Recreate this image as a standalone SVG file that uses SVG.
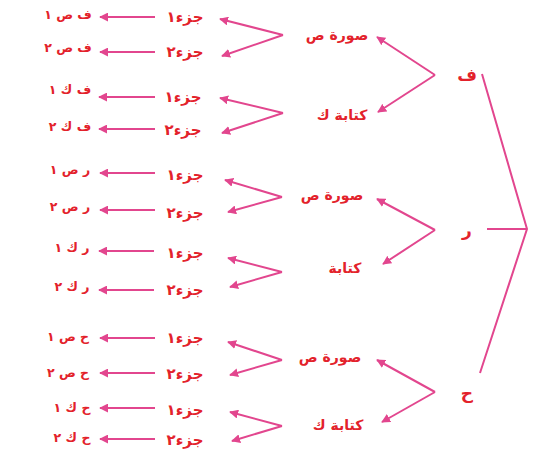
<svg xmlns="http://www.w3.org/2000/svg" width="543" height="450" viewBox="0 0 543 450">
<style>
.t{font-family:"DejaVu Sans","Noto Sans",sans-serif;font-weight:bold;fill:#e3222b;text-anchor:middle;direction:rtl}
.l1{font-size:17px}
.l2{font-size:14px}
.l3{font-size:15px}
.l4{font-size:12.5px}
.c{stroke:#e2468e;stroke-width:2;fill:none}
.a{stroke:#e2468e;stroke-width:2;fill:none;marker-end:url(#ah)}
</style>
<defs>
<marker id="ah" viewBox="0 0 10 10" refX="9" refY="5" markerWidth="4.5" markerHeight="4.5" orient="auto" markerUnits="strokeWidth">
<path d="M0,0 L10,5 L0,10 Z" fill="#e2468e"/>
</marker>
</defs>
<rect width="543" height="450" fill="#ffffff"/>
<g id="connectors">
<polyline class="c" points="482,74 527,229 480,373"/>
<line class="c" x1="487" y1="229" x2="527" y2="229"/>
<line class="a" x1="435" y1="75" x2="377" y2="37"/>
<line class="a" x1="435" y1="75" x2="378" y2="112"/>
<line class="a" x1="435" y1="230" x2="377" y2="199"/>
<line class="a" x1="435" y1="230" x2="383" y2="264"/>
<line class="a" x1="435" y1="392" x2="377" y2="360"/>
<line class="a" x1="435" y1="392" x2="382" y2="422"/>
<line class="a" x1="283" y1="35" x2="220" y2="19"/>
<line class="a" x1="283" y1="35" x2="222" y2="56"/>
<line class="a" x1="283" y1="113" x2="220" y2="98"/>
<line class="a" x1="283" y1="113" x2="222" y2="133"/>
<line class="a" x1="282" y1="197" x2="225" y2="180"/>
<line class="a" x1="282" y1="197" x2="228" y2="212"/>
<line class="a" x1="282" y1="272" x2="228" y2="258"/>
<line class="a" x1="282" y1="272" x2="230" y2="287"/>
<line class="a" x1="282" y1="360" x2="228" y2="342"/>
<line class="a" x1="282" y1="360" x2="230" y2="375"/>
<line class="a" x1="282" y1="426" x2="230" y2="412"/>
<line class="a" x1="282" y1="426" x2="232" y2="441"/>
<line class="a" x1="155" y1="17" x2="100" y2="17"/>
<line class="a" x1="155" y1="52" x2="100" y2="52"/>
<line class="a" x1="155" y1="97" x2="99" y2="97"/>
<line class="a" x1="155" y1="129" x2="99" y2="129"/>
<line class="a" x1="155" y1="173" x2="100" y2="173"/>
<line class="a" x1="155" y1="210" x2="100" y2="210"/>
<line class="a" x1="154" y1="251" x2="99" y2="251"/>
<line class="a" x1="154" y1="290" x2="99" y2="290"/>
<line class="a" x1="155" y1="338" x2="100" y2="338"/>
<line class="a" x1="155" y1="373" x2="100" y2="373"/>
<line class="a" x1="155" y1="408" x2="100" y2="408"/>
<line class="a" x1="155" y1="439" x2="100" y2="439"/>
</g>
<g id="f"><text class="t l1" x="467" y="81">ف</text></g>
<g id="r"><text class="t l1" x="467" y="236">ر</text></g>
<g id="h"><text class="t l1" x="467" y="399">ح</text></g>
<g id="f-s"><text class="t l2" x="337" y="40">صورة ص</text></g>
<g id="f-k"><text class="t l2" x="342" y="120">كتابة ك</text></g>
<g id="r-s"><text class="t l2" x="332" y="200">صورة ص</text></g>
<g id="r-k"><text class="t l2" x="345" y="273">كتابة</text></g>
<g id="h-s"><text class="t l2" x="330" y="362">صورة ص</text></g>
<g id="h-k"><text class="t l2" x="338" y="430">كتابة ك</text></g>
<g id="fs1"><text class="t l3" x="185" y="22">جزء١</text></g>
<g id="fs2"><text class="t l3" x="185" y="57">جزء٢</text></g>
<g id="fk1"><text class="t l3" x="183" y="102">جزء١</text></g>
<g id="fk2"><text class="t l3" x="183" y="135">جزء٢</text></g>
<g id="rs1"><text class="t l3" x="185" y="180">جزء١</text></g>
<g id="rs2"><text class="t l3" x="185" y="218">جزء٢</text></g>
<g id="rk1"><text class="t l3" x="185" y="258">جزء١</text></g>
<g id="rk2"><text class="t l3" x="185" y="295">جزء٢</text></g>
<g id="hs1"><text class="t l3" x="185" y="343">جزء١</text></g>
<g id="hs2"><text class="t l3" x="185" y="379">جزء٢</text></g>
<g id="hk1"><text class="t l3" x="185" y="415">جزء١</text></g>
<g id="hk2"><text class="t l3" x="185" y="445">جزء٢</text></g>
<g id="o-fs1"><text class="t l4" x="68" y="19">ف ص ١</text></g>
<g id="o-fs2"><text class="t l4" x="68" y="52">ف ص ٢</text></g>
<g id="o-fk1"><text class="t l4" x="70" y="94">ف ك ١</text></g>
<g id="o-fk2"><text class="t l4" x="70" y="131">ف ك ٢</text></g>
<g id="o-rs1"><text class="t l4" x="70" y="174">ر ص ١</text></g>
<g id="o-rs2"><text class="t l4" x="70" y="211">ر ص ٢</text></g>
<g id="o-rk1"><text class="t l4" x="72" y="252">ر ك ١</text></g>
<g id="o-rk2"><text class="t l4" x="72" y="291">ر ك ٢</text></g>
<g id="o-hs1"><text class="t l4" x="68" y="341">ح ص ١</text></g>
<g id="o-hs2"><text class="t l4" x="68" y="377">ح ص ٢</text></g>
<g id="o-hk1"><text class="t l4" x="72" y="412">ح ك ١</text></g>
<g id="o-hk2"><text class="t l4" x="72" y="442">ح ك ٢</text></g>
</svg>
